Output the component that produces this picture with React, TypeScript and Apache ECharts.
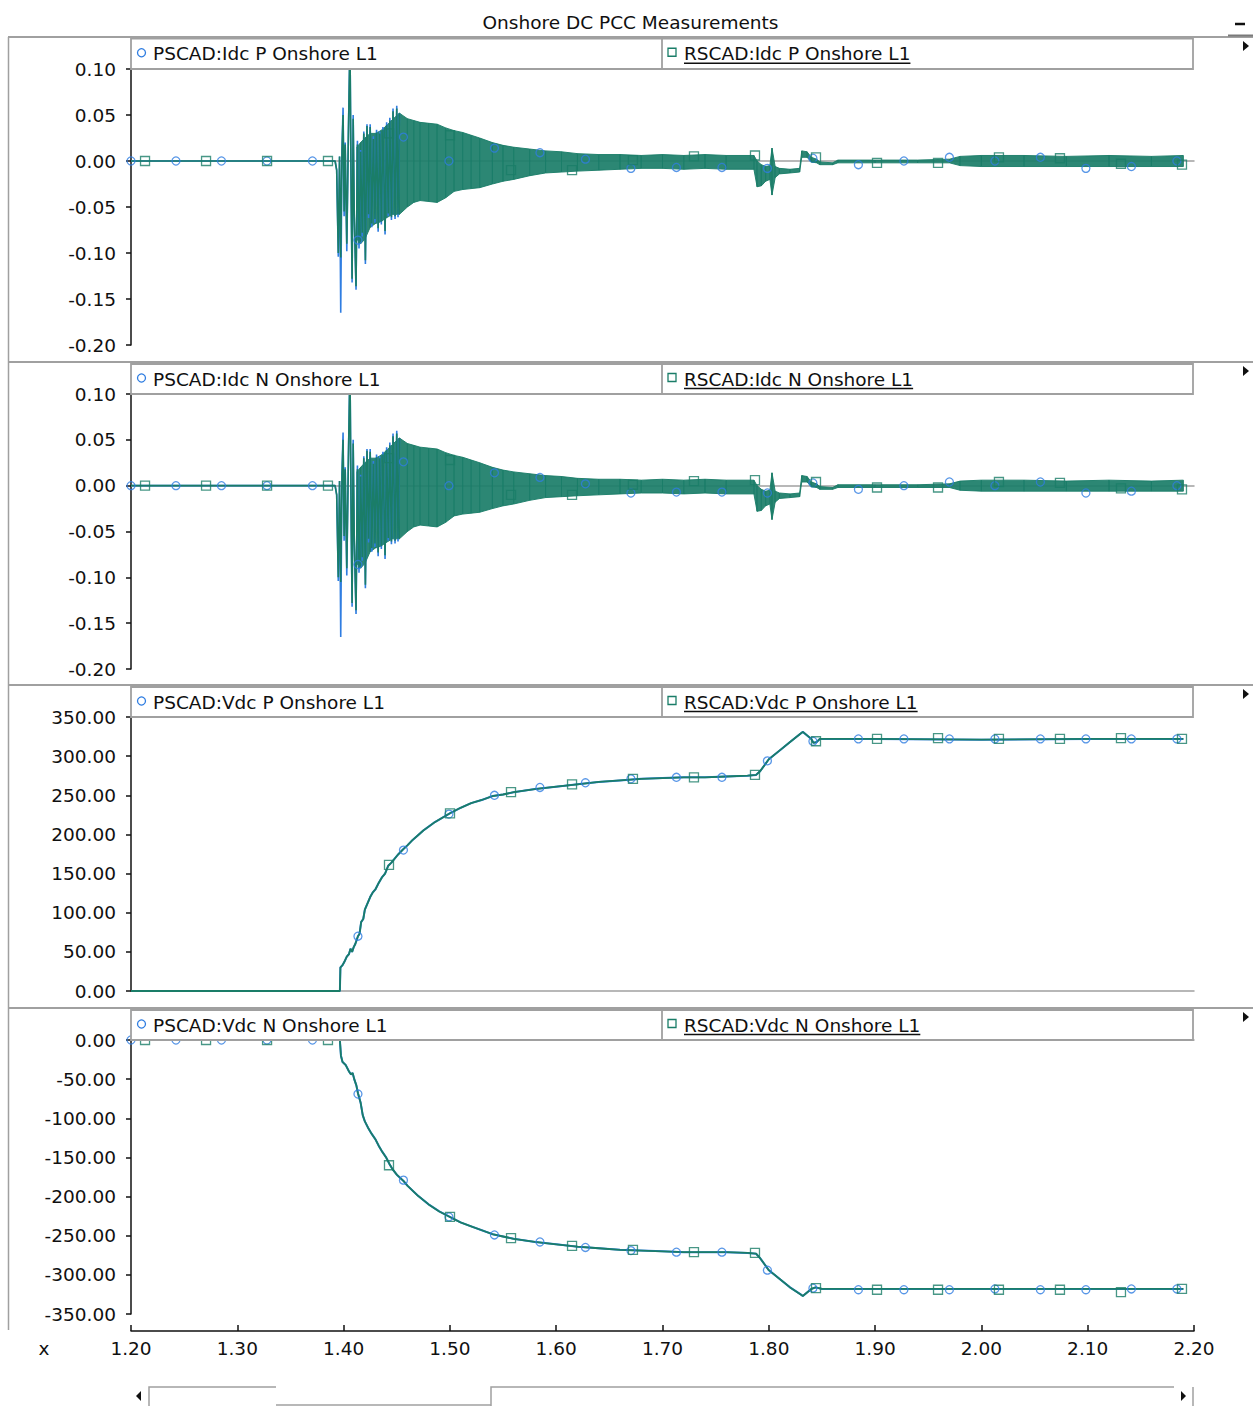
import React, { useEffect, useRef } from "react";
import * as echarts from "echarts";

// ---------------- DATA ----------------
const chartTitle = "Onshore DC PCC Measurements";
const xAxisName = "x";
const X_MIN = 1.2;
const X_MAX = 2.2;
const X_STEP = 0.1;

const pscadNames = ["PSCAD:Idc P Onshore L1", "PSCAD:Idc N Onshore L1", "PSCAD:Vdc P Onshore L1", "PSCAD:Vdc N Onshore L1"];
const rscadNames = ["RSCAD:Idc P Onshore L1", "RSCAD:Idc N Onshore L1", "RSCAD:Vdc P Onshore L1", "RSCAD:Vdc N Onshore L1"];
const yMins = [-0.2, -0.2, 0, -350];
const yMaxs = [0.1, 0.1, 350, 0];
const ySteps = [0.05, 0.05, 50, 50];

// Idc: fault transient spikes (explicit samples)
const idcTraceT = [1.2, 1.392, 1.3935, 1.395, 1.3962, 1.3973, 1.3985, 1.3995, 1.4005, 1.4015, 1.403, 1.4045, 1.406, 1.4072, 1.408, 1.409, 1.41, 1.4117, 1.413, 1.4145, 1.416, 1.4175, 1.419, 1.4205, 1.422, 1.4235, 1.425, 1.4265, 1.428, 1.4295, 1.431, 1.4325, 1.434, 1.4355, 1.437, 1.439, 1.4405, 1.442, 1.4435, 1.445, 1.4465, 1.4484, 1.45, 1.4512, 1.4525];
const idcTracePscad = [0, 0, -0.01, -0.104, 0.005, -0.165, 0.014, 0.058, -0.06, 0.02, -0.098, 0.03, 0.13, -0.05, -0.132, 0.05, -0.06, -0.14, 0.022, -0.095, 0.012, -0.082, 0.032, -0.112, 0.04, -0.062, 0.04, -0.072, 0.027, -0.067, 0.034, -0.077, 0.032, -0.069, 0.037, -0.08, 0.042, -0.06, 0.047, -0.064, 0.057, -0.063, 0.06, -0.061, 0.052];
const idcTraceRscad = [0, 0, -0.01, -0.1, 0.005, -0.105, 0.012, 0.05, -0.055, 0.018, -0.09, 0.028, 0.13, -0.048, -0.128, 0.046, -0.058, -0.136, 0.018, -0.09, 0.01, -0.078, 0.03, -0.108, 0.038, -0.058, 0.037, -0.068, 0.024, -0.063, 0.031, -0.073, 0.03, -0.066, 0.034, -0.076, 0.039, -0.057, 0.044, -0.061, 0.054, -0.06, 0.057, -0.058, 0.052];

// Idc: dense oscillation envelope (upper / lower peaks)
const idcBandT = [1.4125, 1.416, 1.42, 1.425, 1.43, 1.435, 1.44, 1.446, 1.4525, 1.46, 1.466, 1.472, 1.48, 1.488, 1.496, 1.504, 1.512, 1.52, 1.528, 1.54, 1.55, 1.56, 1.575, 1.59, 1.605, 1.62, 1.64, 1.66, 1.68, 1.7, 1.72, 1.74, 1.76, 1.786, 1.789, 1.793, 1.797, 1.801, 1.803, 1.806, 1.81, 1.82, 1.829, 1.831, 1.836, 1.84, 1.845, 1.848, 1.86, 1.865, 1.9, 1.94, 1.97, 1.98, 2.0, 2.04, 2.08, 2.12, 2.16, 2.19];
const idcBandHi = [0.015, 0.02, 0.025, 0.03, 0.03, 0.033, 0.038, 0.045, 0.052, 0.046, 0.044, 0.042, 0.041, 0.04, 0.036, 0.033, 0.031, 0.028, 0.025, 0.02, 0.017, 0.015, 0.013, 0.011, 0.01, 0.008, 0.007, 0.007, 0.006, 0.007, 0.006, 0.007, 0.006, 0.006, 0.0, -0.004, -0.006, -0.005, 0.014, -0.006, -0.008, -0.009, -0.008, 0.011, 0.01, 0.004, 0.002, -0.001, -0.002, 0.001, 0.001, 0.001, 0.002, 0.005, 0.006, 0.006, 0.005, 0.006, 0.005, 0.006];
const idcBandLo = [-0.085, -0.09, -0.085, -0.072, -0.068, -0.066, -0.062, -0.058, -0.058, -0.05, -0.045, -0.043, -0.044, -0.045, -0.04, -0.033, -0.031, -0.03, -0.029, -0.025, -0.022, -0.02, -0.016, -0.013, -0.012, -0.011, -0.01, -0.009, -0.008, -0.008, -0.009, -0.008, -0.009, -0.009, -0.028, -0.027, -0.022, -0.02, -0.037, -0.018, -0.014, -0.013, -0.012, 0.004, 0.004, -0.001, -0.002, -0.004, -0.004, -0.002, -0.002, -0.002, -0.002, -0.005, -0.006, -0.006, -0.006, -0.006, -0.006, -0.006];

// Marker sample times
const pscadMarkT = [1.2, 1.2423, 1.2851, 1.3279, 1.3707, 1.4135, 1.4563, 1.4991, 1.5419, 1.5847, 1.6275, 1.6703, 1.7131, 1.7559, 1.7987, 1.8415, 1.8843, 1.9271, 1.9699, 2.0127, 2.0555, 2.0983, 2.1411, 2.1839];
const rscadMarkT = [1.2132, 1.2706, 1.328, 1.3853, 1.4427, 1.5001, 1.5575, 1.6149, 1.6722, 1.7296, 1.787, 1.8444, 1.9018, 1.9592, 2.0165, 2.0739, 2.1313, 2.1887];

const idcPscadMarkV = [0, 0, 0, 0, 0, -0.086, 0.026, 0.0, 0.014, 0.009, 0.002, -0.008, -0.007, -0.007, -0.008, 0.003, -0.004, 0.0, 0.004, 0.0, 0.004, -0.008, -0.006, 0.0];
const idcRscadMarkV = [0, 0, 0, 0, 0.03, 0.028, -0.01, -0.01, 0.001, 0.005, 0.006, 0.004, -0.002, -0.002, 0.004, 0.003, -0.003, -0.004];

// Vdc P
const vdcPT = [1.2, 1.3965, 1.397, 1.399, 1.401, 1.403, 1.405, 1.4065, 1.408, 1.4095, 1.411, 1.4135, 1.415, 1.4165, 1.4185, 1.42, 1.4225, 1.425, 1.4275, 1.43, 1.433, 1.436, 1.439, 1.442, 1.445, 1.448, 1.451, 1.456, 1.46, 1.465, 1.47, 1.475, 1.48, 1.485, 1.49, 1.495, 1.5, 1.51, 1.52, 1.53, 1.54, 1.55, 1.56, 1.58, 1.6, 1.62, 1.64, 1.66, 1.68, 1.7, 1.72, 1.74, 1.76, 1.78, 1.788, 1.792, 1.8, 1.81, 1.82, 1.83, 1.832, 1.84, 1.842, 1.845, 1.848, 1.86, 1.9, 2.0, 2.1, 2.19];
const vdcPV = [0, 0, 30, 33, 38, 44, 47, 54, 50, 56, 60, 70, 73, 88, 92, 104, 112, 120, 126, 130, 138, 145, 150, 160, 164, 169, 174, 181, 186, 193, 199, 205, 210, 215, 219, 223, 227, 234, 240, 244, 249, 251, 254, 258, 261, 264, 267, 269, 271, 272, 273, 273, 274, 275, 276, 281, 296, 307, 318, 329, 331, 322, 317, 318, 322, 322, 322, 321, 322, 322];
const vdcPPscadMarkV = [null, null, null, null, null, 70, 180, 226, 250, 260, 266, 271, 273, 273, 294, 319, 322, 322, 322, 322, 322, 322, 322, 322];
const vdcPRscadMarkV = [null, null, null, null, 161, 227, 254, 264, 271, 273, 276, 319, 322, 323, 322, 322, 323, 322];

// Vdc N
const vdcNT = [1.2, 1.3965, 1.3975, 1.399, 1.402, 1.405, 1.407, 1.4085, 1.41, 1.412, 1.4135, 1.416, 1.418, 1.42, 1.423, 1.426, 1.43, 1.433, 1.436, 1.44, 1.443, 1.446, 1.45, 1.4563, 1.46, 1.47, 1.48, 1.49, 1.5, 1.51, 1.52, 1.53, 1.54, 1.55, 1.56, 1.58, 1.6, 1.62, 1.64, 1.66, 1.68, 1.7, 1.72, 1.74, 1.76, 1.78, 1.788, 1.792, 1.8, 1.81, 1.82, 1.83, 1.832, 1.84, 1.844, 1.85, 1.9, 2.0, 2.1, 2.19];
const vdcNV = [0, 0, -20, -28, -32, -40, -44, -42, -50, -58, -68, -80, -96, -104, -112, -119, -127, -135, -142, -150, -158, -165, -172, -180, -186, -199, -210, -219, -226, -233, -238, -243, -248, -251, -254, -258, -261, -264, -266, -268, -269, -270, -271, -271, -271, -272, -273, -279, -294, -305, -316, -325, -327, -318, -316, -318, -318, -318, -318, -318];
const vdcNPscadMarkV = [0, 0, 0, 0, 0, -69, -179, -226, -249, -258, -265, -269, -271, -271, -294, -317, -319, -319, -319, -318, -319, -319, -318, -318];
const vdcNRscadMarkV = [0, 0, 0, 0, -160, -226, -253, -263, -268, -271, -272, -317, -319, -319, -319, -319, -322, -318];

// ---------------- STYLE / LAYOUT ----------------
const TEAL = "#1a7d68";
const BLUE = "#2f7de1";
const GRAY = "#a0a0a0";
const INK = "#101010";
const FONT_FAMILY = "DejaVu Sans";
const FONT_SIZE = 18.5;
const FONT = `${FONT_SIZE}px '${FONT_FAMILY}'`;

const PLOT_LEFT = 131;
const PLOT_RIGHT = 1194;
const PLOT_W = PLOT_RIGHT - PLOT_LEFT;
const panelTops = [69, 394, 717, 1040];
const panelHeights = [276, 275, 274, 274];
const legendTops = [38.5, 364, 687, 1010];
const separatorYs = [362, 685, 1008];
const LEGEND_RIGHT = 1193;
const LEGEND_DIV = 662;
const AXIS_Y = 1331;

const zip = (t: number[], v: (number | null)[]) =>
  t.map((x, i) => [x, v[i]]).filter((p) => p[1] !== null && p[1] !== undefined);

const fmt2 = (v: number) => (Math.abs(v) < 1e-9 ? "0.00" : v.toFixed(2));

function measure(text: string): number {
  const c = document.createElement("canvas").getContext("2d");
  if (!c) return text.length * 10.5;
  c.font = FONT;
  return c.measureText(text).width;
}

export default function App() {
  const ref = useRef<HTMLDivElement>(null);

  useEffect(() => {
    document.body.style.margin = "0";
    if (!ref.current) return;
    const chart = echarts.init(ref.current, null, { renderer: "svg" });

    const grids: any[] = [];
    const xAxes: any[] = [];
    const yAxes: any[] = [];
    for (let k = 0; k < 4; k++) {
      grids.push({ left: PLOT_LEFT, top: panelTops[k], width: PLOT_W, height: panelHeights[k], outerBoundsMode: "none", containLabel: false });
      xAxes.push({
        type: "value", gridIndex: k, min: X_MIN, max: X_MAX, interval: X_STEP,
        axisLine: { show: true, onZero: true, lineStyle: { color: GRAY, width: 1.5 } },
        axisTick: { show: false }, axisLabel: { show: false }, splitLine: { show: false },
      });
      yAxes.push({
        type: "value", gridIndex: k, min: yMins[k], max: yMaxs[k], interval: ySteps[k],
        axisLine: { show: true, onZero: false, lineStyle: { color: INK, width: 1.5 } },
        axisTick: { show: true, length: 5, lineStyle: { color: INK, width: 1.5 } },
        axisLabel: { show: true, margin: 15, color: INK, fontFamily: FONT_FAMILY, fontSize: FONT_SIZE, formatter: fmt2, showMinLabel: true, showMaxLabel: true },
        splitLine: { show: false },
      });
    }
    // bottom labelled time axis
    grids.push({ left: PLOT_LEFT, top: AXIS_Y - 1, width: PLOT_W, height: 1, outerBoundsMode: "none", containLabel: false });
    xAxes.push({
      type: "value", gridIndex: 4, min: X_MIN, max: X_MAX, interval: X_STEP, position: "bottom",
      axisLine: { show: true, onZero: false, lineStyle: { color: INK, width: 1.5 } },
      axisTick: { show: true, inside: true, length: 6, lineStyle: { color: INK, width: 1.5 } },
      axisLabel: { show: true, margin: 8, color: INK, fontFamily: FONT_FAMILY, fontSize: FONT_SIZE, formatter: fmt2, showMinLabel: true, showMaxLabel: true },
      splitLine: { show: false },
    });
    yAxes.push({ type: "value", gridIndex: 4, min: 0, max: 1, show: false });

    const series: any[] = [];
    const lineS = (k: number, data: any[], color: string, width: number) => ({
      type: "line", xAxisIndex: k, yAxisIndex: k, data, symbol: "none", silent: true,
      lineStyle: { color, width }, z: 2,
    });
    const markS = (k: number, data: any[], color: string, symbol: string, size: number) => ({
      type: "scatter", xAxisIndex: k, yAxisIndex: k, data, symbol, symbolSize: size, silent: true,
      itemStyle: { color: "rgba(255,255,255,0)", borderColor: color, borderWidth: 1.3 }, z: 4,
    });
    // envelope band: quad between consecutive envelope samples, mapped by the axes
    const bandS = (k: number, color: string) => ({
      type: "custom", xAxisIndex: k, yAxisIndex: k, silent: true, z: 2,
      data: idcBandT.map((t, i) => [t, idcBandHi[i], idcBandLo[i]]),
      encode: { x: 0, y: [1, 2] },
      renderItem: (params: any, api: any) => {
        const i = params.dataIndex;
        if (i >= idcBandT.length - 1) return null;
        const a = api.coord([api.value(0), api.value(1)]);
        const b = api.coord([idcBandT[i + 1], idcBandHi[i + 1]]);
        const c = api.coord([idcBandT[i + 1], idcBandLo[i + 1]]);
        const d = api.coord([api.value(0), api.value(2)]);
        return {
          type: "polygon",
          shape: { points: [a, b, c, d] },
          style: { fill: color, stroke: color, lineWidth: 1, opacity: 0.92 },
        };
      },
    });

    for (let k = 0; k < 2; k++) {
      series.push(lineS(k, zip(idcTraceT, idcTracePscad), BLUE, 1.6));
      series.push(bandS(k, TEAL));
      series.push(lineS(k, zip(idcTraceT, idcTraceRscad), TEAL, 1.6));
      series.push(markS(k, zip(pscadMarkT, idcPscadMarkV), BLUE, "circle", 8));
      series.push(markS(k, zip(rscadMarkT, idcRscadMarkV), TEAL, "rect", 9));
    }
    series.push(lineS(2, zip(vdcPT, vdcPV), BLUE, 2));
    series.push(lineS(2, zip(vdcPT, vdcPV), TEAL, 1.8));
    series.push(markS(2, zip(pscadMarkT, vdcPPscadMarkV), BLUE, "circle", 8));
    series.push(markS(2, zip(rscadMarkT, vdcPRscadMarkV), TEAL, "rect", 9));
    series.push(lineS(3, zip(vdcNT, vdcNV), BLUE, 2));
    series.push(lineS(3, zip(vdcNT, vdcNV), TEAL, 1.8));
    series.push(markS(3, zip(pscadMarkT, vdcNPscadMarkV), BLUE, "circle", 8));
    series.push(markS(3, zip(rscadMarkT, vdcNRscadMarkV), TEAL, "rect", 9));

    // ---------- graphic chrome ----------
    const g: any[] = [];
    const Z = 50;
    const hline = (x1: number, x2: number, y: number, color: string, w: number) =>
      ({ type: "line", z: Z, silent: true, shape: { x1, y1: y, x2, y2: y }, style: { stroke: color, lineWidth: w } });
    const vline = (x: number, y1: number, y2: number, color: string, w: number) =>
      ({ type: "line", z: Z, silent: true, shape: { x1: x, y1, x2: x, y2 }, style: { stroke: color, lineWidth: w } });
    const text = (s: string, x: number, y: number, align: string) =>
      ({ type: "text", z: Z + 2, silent: true, x, y, style: { text: s, font: FONT, fill: INK, align, verticalAlign: "middle", textAlign: align, textVerticalAlign: "middle" } });

    g.push(text(chartTitle, 630.5, 22, "center"));
    g.push(hline(1235, 1245, 24, INK, 2.5));
    g.push(hline(8, 1253, 37, GRAY, 2));
    g.push(hline(1228, 1253, 35.5, "#7a7a7a", 2));
    g.push(vline(8.5, 37, 1330, GRAY, 1.5));
    separatorYs.forEach((y) => g.push(hline(8, 1253, y, GRAY, 2)));

    for (let k = 0; k < 4; k++) {
      const top = legendTops[k];
      const bottom = panelTops[k];
      const mid = (top + bottom) / 2;
      g.push({ type: "rect", z: Z, silent: true, shape: { x: PLOT_LEFT, y: top, width: LEGEND_RIGHT - PLOT_LEFT, height: bottom - top }, style: { fill: "#ffffff", stroke: GRAY, lineWidth: 1.8 } });
      g.push(vline(LEGEND_DIV, top, bottom, GRAY, 1.8));
      g.push({ type: "circle", z: Z + 1, silent: true, shape: { cx: 141.5, cy: mid - 1, r: 4 }, style: { fill: "none", stroke: BLUE, lineWidth: 1.3 } });
      g.push(text(pscadNames[k], 153, mid, "left"));
      g.push({ type: "rect", z: Z + 1, silent: true, shape: { x: 668, y: mid - 5.5, width: 8, height: 8 }, style: { fill: "none", stroke: TEAL, lineWidth: 1.3 } });
      g.push(text(rscadNames[k], 684, mid, "left"));
      const w = measure(rscadNames[k]);
      g.push({ type: "line", z: Z + 1, silent: true, shape: { x1: 684, y1: mid + 9.5, x2: 684 + w, y2: mid + 9.5 }, style: { stroke: INK, lineWidth: 1.5 } });
      const ty = panelTops[k] - 23;
      g.push({ type: "polygon", z: Z, silent: true, shape: { points: [[1243, ty - 5], [1249, ty], [1243, ty + 5]] }, style: { fill: INK } });
    }

    g.push(text(xAxisName, 44, 1348, "center"));

    // scrollbar
    g.push({ type: "polygon", z: Z, silent: true, shape: { points: [[141, 1391], [136, 1396], [141, 1401]] }, style: { fill: INK } });
    g.push({ type: "polyline", z: Z, silent: true, shape: { points: [[149, 1406], [149, 1387], [276, 1387]] }, style: { stroke: GRAY, lineWidth: 1.5, fill: "none" } });
    g.push(hline(276, 491, 1405, GRAY, 1.5));
    g.push({ type: "polyline", z: Z, silent: true, shape: { points: [[491, 1406], [491, 1387], [1174, 1387]] }, style: { stroke: GRAY, lineWidth: 1.5, fill: "none" } });
    g.push({ type: "polygon", z: Z, silent: true, shape: { points: [[1181, 1391], [1186, 1396], [1181, 1401]] }, style: { fill: INK } });
    g.push(vline(1193, 1387, 1406, GRAY, 1.5));

    chart.setOption({
      animation: false,
      backgroundColor: "#ffffff",
      grid: grids,
      xAxis: xAxes,
      yAxis: yAxes,
      series,
      graphic: { elements: g },
    });

    return () => chart.dispose();
  }, []);

  return <div ref={ref} style={{ width: 1253, height: 1406 }} />;
}
